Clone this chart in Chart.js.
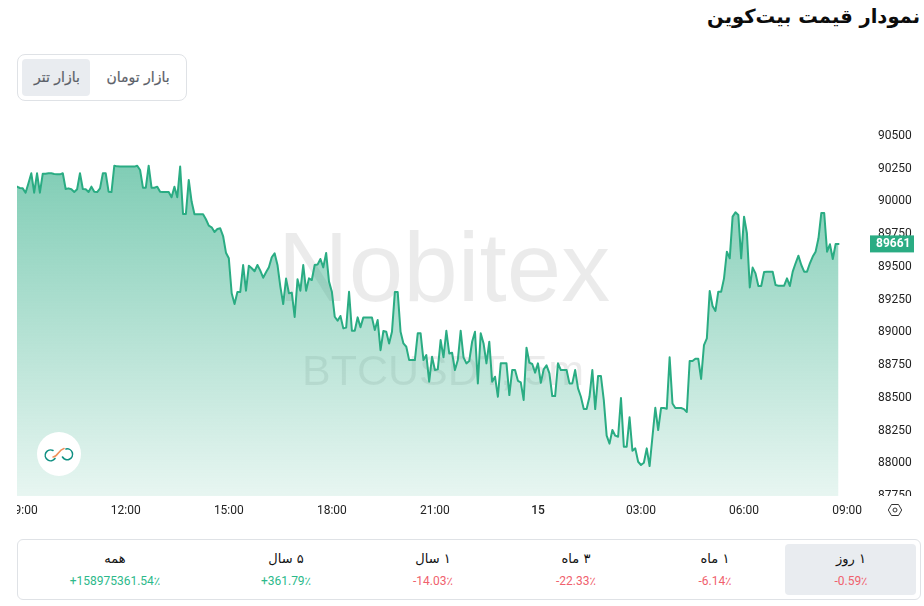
<!DOCTYPE html>
<html lang="fa">
<head>
<meta charset="UTF-8">
<title>نمودار قیمت بیت‌کوین</title>
<script src="https://cdn.jsdelivr.net/npm/chart.js@4"></script>
<style>
    html, body {margin: 0;width: 924px;height: 606px;overflow: hidden;background: #fff;font-family: Roboto, "DejaVu Sans", sans-serif;}
    h1 {position: absolute;right: 4px;top: 5px;margin: 0;font: bold 19.5px "DejaVu Sans", sans-serif;color: #0c0c0c;direction: rtl;white-space: nowrap;}
    #tabs {position: absolute;left: 17px;top: 54px;width: 168px;height: 45px;border: 1px solid #dfe2e6;border-radius: 8px;}
    #tabs span {position: absolute;top: 4px;height: 37px;text-align: center;font: 14px/37px "DejaVu Sans", sans-serif;color: #5b6068;direction: rtl;border-radius: 4px;-webkit-text-stroke: 0.2px #5b6068;}
    #chartBox {position: absolute;left: 17px;top: 104px;}
    #logo {position: absolute;left: 37px;top: 432px;width: 44px;height: 44px;background: #fff;border-radius: 50%;}
    #gear {position: absolute;left: 886px;top: 501px;}
    #stats {position: absolute;left: 17px;top: 539px;width: 902px;height: 59px;border: 1px solid #dfe2e6;border-radius: 6px;}
    #active {position: absolute;left: 767px;top: 4px;width: 131px;height: 51px;background: #e9ecf0;border-radius: 4px;}
    .cell {position: absolute;top: 0;width: 120px;margin-left: -60px;text-align: center;}
    .name {position: absolute;top: 11px;width: 100%;font: 13px/16px "DejaVu Sans", sans-serif;color: #111;direction: rtl;}
    .change {position: absolute;top: 33px;width: 160px;left: -20px;font: 12px/16px Roboto, "DejaVu Sans", sans-serif;direction: ltr;}
</style>
</head>
<body>
<h1>نمودار قیمت بیت‌کوین</h1>
<div id="tabs">
    <span style="left: 5px;width: 68px;background: #e9ecf0;left: 4px;text-indent: -2px;">بازار تتر</span>
    <span style="left: 74px;width: 92px;">بازار تومان</span>
</div>
<div id="chartBox"><canvas id="priceChart" width="907" height="420"></canvas></div>
<div id="logo">
    <svg width="44" height="44" viewBox="0 0 44 44" fill="none" stroke-width="1.6" stroke-linecap="round">
        <path d="M16 18.5a5.4 5.4 0 1 0 2 8" stroke="#0f8f82"/>
        <path d="M29 17a5.4 5.4 0 1 1-3.5 8" stroke="#0f8f82"/>
        <path d="M16 25c5 0 5-7 11-8.5" stroke="#f0905a"/>
    </svg>
</div>
<svg id="gear" width="18" height="18" viewBox="0 0 18 18" fill="none" stroke="#333" stroke-width="1">
    <path d="M5.5 3.5h7l3.2 5.5-3.2 5.5h-7L2.3 9z"/>
    <circle cx="9" cy="9" r="2"/>
</svg>
<div id="stats"><div id="active"></div></div>

<script>
    const prices = [
        90098, 90088, 90085, 90052, 90124, 90200, 90052, 90200, 90052, 90197, 90197, 90200, 90200, 90195, 90192, 90192,
        90200, 90080, 90085, 90078, 90057, 90078, 90200, 90080, 90078, 90057, 90098, 90060, 90057, 90085, 90200, 90200,
        90060, 90057, 90258, 90253, 90251, 90251, 90251, 90251, 90251, 90251, 90258, 90225, 90090, 90090, 90258, 90090,
        90090, 90098, 90060, 90057, 90057, 90057, 90017, 90098, 90017, 90251, 89889, 89889, 90149, 89984, 89887, 89887,
        89887, 89887, 89849, 89800, 89788, 89752, 89775, 89780, 89721, 89594, 89551, 89284, 89202, 89294, 89294, 89500,
        89304, 89495, 89475, 89452, 89500, 89457, 89403, 89444, 89482, 89559, 89589, 89500, 89335, 89202, 89396, 89284,
        89289, 89103, 89391, 89304, 89500, 89304, 89398, 89385, 89500, 89503, 89546, 89482, 89592, 89373, 89296, 89105,
        89075, 89111, 89016, 89022, 89296, 88998, 88998, 89100, 89024, 89100, 89100, 89100, 89100, 89003, 89080, 88850,
        88996, 88990, 88901, 88990, 89293, 89293, 88990, 88901, 88876, 88774, 88774, 88774, 88978, 88978, 88774, 88812,
        88609, 88800, 88698, 88703, 88927, 88795, 88998, 88825, 88830, 88698, 88774, 88998, 88795, 88749, 88767, 88914,
        88990, 88596, 88978, 88901, 88749, 88914, 88609, 88647, 88494, 88749, 88749, 88749, 88507, 88698, 88698, 88616,
        88604, 88470, 88869, 88754, 88744, 88678, 88749, 88601, 88703, 88734, 88673, 88499, 88499, 88749, 88698, 88698,
        88698, 88596, 88596, 88698, 88558, 88494, 88400, 88400, 88494, 88698, 88400, 88652, 88652, 88469, 88197, 88136,
        88240, 88197, 88189, 88484, 88113, 88113, 88337, 88082, 88100, 87998, 87973, 87990, 88100, 87965, 88189, 88410,
        88240, 88408, 88408, 88403, 88795, 88443, 88408, 88408, 88408, 88400, 88378, 88767, 88767, 88785, 88785, 88630,
        88889, 88940, 89301, 89187, 89149, 89296, 89296, 89398, 89602, 89551, 89869, 89902, 89882, 89551, 89869, 89742,
        89329, 89480, 89436, 89340, 89340, 89446, 89449, 89449, 89449, 89347, 89342, 89342, 89342, 89398, 89340, 89449,
        89513, 89571, 89500, 89449, 89449, 89513, 89564, 89602, 89704, 89897, 89897, 89602, 89658, 89546, 89660, 89661
    ];
    const yTicks = [90500, 90250, 90000, 89750, 89500, 89250, 89000, 88750, 88500, 88250, 88000, 87750];
    const timeLabels = ['09:00', '12:00', '15:00', '18:00', '21:00', '15', '03:00', '06:00', '09:00'];
    const timeIndexes = [2, 38, 74, 110, 146, 182, 218, 254, 290];
    const lastPrice = 89661;

    const periodNames = ['۱ روز', '۱ ماه', '۳ ماه', '۱ سال', '۵ سال', 'همه'];
    const periodChanges = ['-0.59٪', '-6.14٪', '-22.33٪', '-14.03٪', '+361.79٪', '+158975361.54٪'];
    const cellCenters = [833, 697, 558, 415, 268, 97];

    const lineColor = 'rgb(42, 172, 131)';

    periodNames.forEach((name, i) => {
        let color = periodChanges[i][0] === '+' ? '#2cb98a' : '#f0616d';
        document.getElementById('stats').insertAdjacentHTML('beforeend',
            `<div class="cell" style="left: ${cellCenters[i]}px;"><div class="name">${name}</div><div class="change" style="color: ${color};">${periodChanges[i]}</div></div>`);
    });

    // watermark under the area, price tag over the axis
    const overlay = {
        id: 'overlay',
        beforeDatasetsDraw(chart) {
            let ctx = chart.ctx;
            ctx.save();
            ctx.fillStyle = 'rgba(0, 0, 0, 0.08)';
            ctx.textAlign = 'center';
            ctx.textBaseline = 'alphabetic';
            ctx.font = '98px "Liberation Sans"';
            ctx.fillText('Nobitex', 427, 197);
            ctx.font = '43px "Liberation Sans"';
            ctx.fillText('BTCUSDT, 5m', 426, 281);
            ctx.restore();
        },
        afterDraw(chart) {
            let ctx = chart.ctx, area = chart.chartArea;
            let y = chart.scales.y.getPixelForValue(lastPrice);
            ctx.save();
            // price axis stops at the bottom of the plot
            ctx.fillStyle = '#fff';
            ctx.fillRect(area.right, area.bottom, 60, 8);
            ctx.fillStyle = lineColor;
            ctx.fillRect(area.right, y - 8.5, 44, 17);
            ctx.fillStyle = '#fff';
            ctx.font = 'bold 12px Roboto';
            ctx.textAlign = 'left';
            ctx.textBaseline = 'middle';
            ctx.fillText(String(lastPrice), area.right + 6, y + 0.5);
            ctx.restore();
        }
    };

    new Chart(document.getElementById('priceChart'), {
        type: 'line',
        plugins: [overlay],
        data: {
            datasets: [{
                data: prices.map((p, i) => ({x: i, y: p})),
                borderColor: lineColor,
                borderWidth: 2,
                borderJoinStyle: 'round',
                borderCapStyle: 'round',
                pointRadius: 0,
                tension: 0,
                fill: 'start',
                backgroundColor(context) {
                    let g = context.chart.ctx.createLinearGradient(0, 55, 0, 392);
                    g.addColorStop(0, 'rgba(40, 170, 130, 0.6)');
                    g.addColorStop(1, 'rgba(40, 170, 130, 0.11)');
                    return g;
                }
            }]
        },
        options: {
            responsive: false,
            animation: false,
            parsing: false,
            layout: {padding: 0},
            plugins: {legend: {display: false}, tooltip: {enabled: false}},
            scales: {
                x: {
                    type: 'linear',
                    min: 0,
                    max: 298,
                    grid: {display: false},
                    border: {display: false},
                    afterBuildTicks(scale) {
                        scale.ticks = timeIndexes.map(v => ({value: v}));
                    },
                    afterFit(scale) {
                        scale.height = 28;
                        scale.paddingLeft = 0;
                        scale.paddingRight = 0;
                    },
                    ticks: {
                        autoSkip: false,
                        maxRotation: 0,
                        padding: 0,
                        color: '#222',
                        font(context) {
                            return {family: 'Roboto', size: 12, weight: timeLabels[context.index] === '15' ? '500' : 'normal'};
                        },
                        callback: (v, i) => timeLabels[i]
                    }
                },
                y: {
                    type: 'linear',
                    position: 'right',
                    min: 87736.5,
                    max: 90729,
                    grid: {display: false},
                    border: {display: false},
                    afterBuildTicks(scale) {
                        scale.ticks = yTicks.map(v => ({value: v}));
                    },
                    afterFit(scale) {
                        scale.width = 54;
                        scale.paddingTop = 0;
                        scale.paddingBottom = 0;
                    },
                    ticks: {
                        autoSkip: false,
                        padding: 0,
                        labelOffset: 2,
                        color: '#222',
                        font: {family: 'Roboto', size: 12},
                        callback: v => String(v)
                    }
                }
            }
        }
    });
</script>
</body>
</html>
